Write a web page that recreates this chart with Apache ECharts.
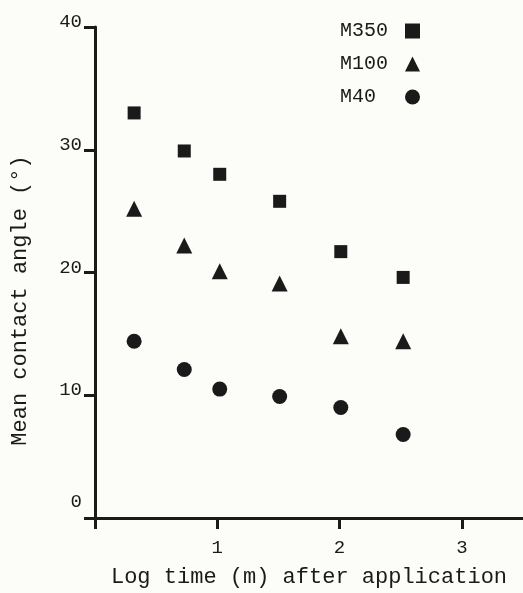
<!DOCTYPE html>
<html>
<head>
<meta charset="utf-8">
<script src="https://cdn.jsdelivr.net/npm/echarts@6/dist/echarts.min.js"></script>
<style>
  html, body { margin: 0; padding: 0; background: #fcfcf8; }
  #chart { width: 523px; height: 593px; }
</style>
</head>
<body>
<div id="chart"></div>
<script>
// log time (m) after application
const logTime = [0.32, 0.73, 1.02, 1.51, 2.01, 2.52]
const m350 = [33.0, 29.9, 28.0, 25.8, 21.7, 19.6]
const m100 = [25.2, 22.2, 20.1, 19.1, 14.8, 14.4]
const m40 = [14.4, 12.1, 10.5, 9.9, 9.0, 6.8]
const seriesNames = ['M350', 'M100', 'M40']
const seriesSymbols = ['rect', 'triangle', 'circle']
const seriesSizes = [13, 16, 15]
const xTicks = [0, 1, 2, 3]

const font = '"Liberation Mono", "DejaVu Sans Mono", monospace'
const ink = '#1a1a1a'

function pairs(ys) {
  return ys.map((y, i) => [logTime[i], y])
}

const chart = echarts.init(document.getElementById('chart'))
chart.setOption({
  backgroundColor: '#fcfcf8',
  animation: false,
  grid: {
    left: 95,
    top: 27,
    width: 430,
    height: 495
  },
  legend: {
    orient: 'vertical',
    align: 'right',
    left: 335,
    top: 16,
    itemGap: 13,
    itemWidth: 15,
    itemHeight: 15,
    data: seriesNames,
    // monospace: pad names so the markers line up in one column
    formatter: (name) => name.padEnd(5, ' '),
    textStyle: {
      fontFamily: font,
      fontSize: 20,
      color: ink
    }
  },
  xAxis: {
    type: 'value',
    min: 0,
    max: 3.5,
    interval: 1,
    name: 'Log time (m) after application',
    nameLocation: 'middle',
    nameGap: 48,
    nameTextStyle: { fontFamily: font, fontSize: 22, color: ink },
    splitLine: { show: false },
    axisLine: { lineStyle: { color: ink, width: 3 } },
    axisTick: { inside: false, length: 11, customValues: xTicks, lineStyle: { color: ink, width: 3 } },
    axisLabel: {
      fontFamily: font,
      fontSize: 19,
      color: ink,
      margin: 20,
      customValues: xTicks.slice(1)
    }
  },
  yAxis: {
    type: 'value',
    min: 0,
    max: 40,
    interval: 10,
    name: 'Mean contact angle (°)',
    nameLocation: 'middle',
    nameGap: 64,
    nameTextStyle: { fontFamily: font, fontSize: 22, color: ink, padding: [0, 56, 0, 0] },
    splitLine: { show: false },
    axisLine: { lineStyle: { color: ink, width: 3 } },
    axisTick: { inside: false, length: 11, lineStyle: { color: ink, width: 3 } },
    axisLabel: {
      fontFamily: font,
      fontSize: 19,
      color: ink,
      margin: 13,
      padding: [0, 0, 10, 0],
      formatter: (v) => (v === 0 ? '{z|0}' : String(v)),
      rich: {
        z: { fontFamily: font, fontSize: 19, color: ink, padding: [0, 0, 22, 0] }
      }
    }
  },
  series: [m350, m100, m40].map((ys, i) => ({
    name: seriesNames[i],
    type: 'scatter',
    symbol: seriesSymbols[i],
    symbolSize: seriesSizes[i],
    itemStyle: { color: ink, opacity: 1 },
    data: pairs(ys)
  }))
})
</script>
</body>
</html>
